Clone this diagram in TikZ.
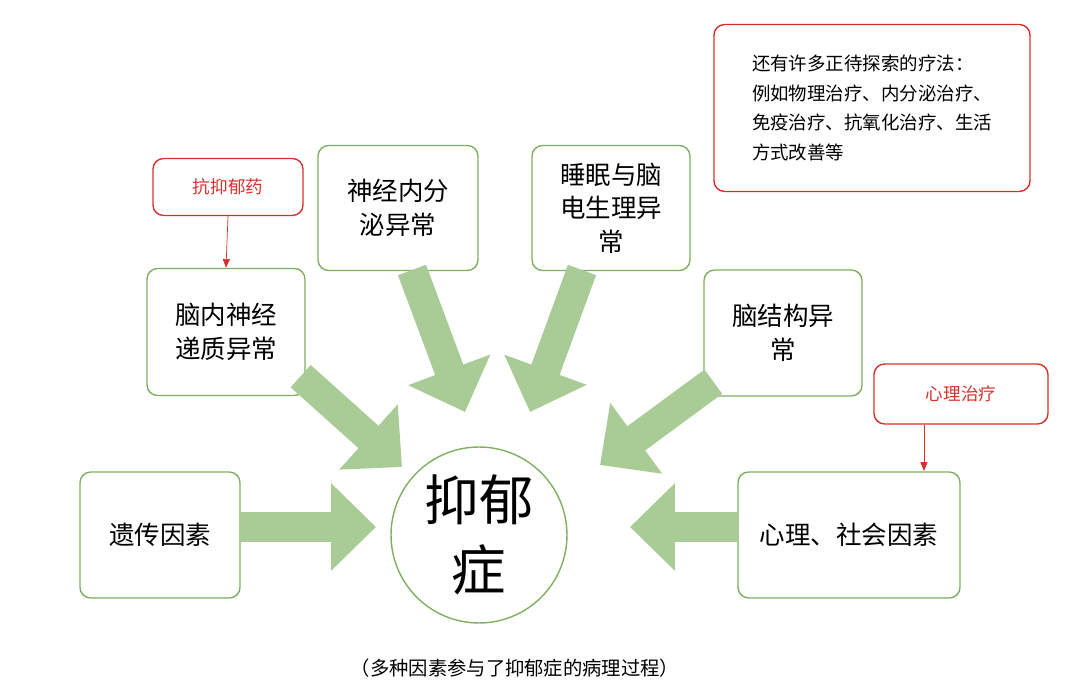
\documentclass[tikz,border=0pt]{standalone}
\usepackage{fontspec}
\setmainfont{Noto Sans CJK SC}
\usetikzlibrary{arrows.meta}
\definecolor{boxgreen}{HTML}{7FAF62}
\definecolor{arrgreen}{HTML}{A9CB96}
\definecolor{noteRed}{HTML}{D8312C}
\begin{document}
\begin{tikzpicture}[x=0.02cm,y=-0.02cm,
			factor/.style={draw=boxgreen,thick,rounded corners=6pt,fill=white,align=center,
				font=\fontsize{14.5}{19}\selectfont,inner sep=0pt},
			note/.style={draw=noteRed,thick,rounded corners=6pt,text=noteRed,
				font=\fontsize{10}{13}\selectfont,inner sep=0pt},
			flow/.style={arrgreen,line width=0.6cm,-{Triangle[width=1.7cm,length=0.9cm]}},
			hint/.style={noteRed,-{Triangle[width=4pt,length=5pt]}}]

		\useasboundingbox (0,0) rectangle (1080,692);

		\node [factor, minimum width=3.2cm, minimum height=2.52cm] (gene) at (160,535) {遗传因素};
		\node [factor, minimum width=3.16cm, minimum height=2.54cm] (trans) at (226,332) {脑内神经\\递质异常};
		\node [factor, minimum width=3.2cm, minimum height=2.5cm] (endo) at (398,208) {神经内分\\泌异常};
		\node [factor, minimum width=3.16cm, minimum height=2.5cm] (sleep) at (611,208) {睡眠与脑\\电生理异\\常};
		\node [factor, minimum width=3.16cm, minimum height=2.52cm] (struct) at (783,333) {脑结构异\\常};
		\node [factor, minimum width=4.44cm, minimum height=2.52cm] (psy) at (849,535) {心理、社会因素};
		\node [draw=boxgreen, thick, circle, minimum size=3.52cm, align=center,
			font=\fontsize{31}{40}\selectfont, inner sep=0pt] (dep) at (479,535) {抑郁\\症};

		\node [note, minimum width=3cm, minimum height=1.14cm] (drug) at (228,187) {抗抑郁药};
		\node [note, minimum width=3.48cm, minimum height=1.2cm] (therapy) at (961,394) {心理治疗};
		\node [note, minimum width=6.32cm, minimum height=3.34cm, align=left, text=black,
			font=\fontsize{10.5}{17}\selectfont] (other) at (872,108)
			{还有许多正待探索的疗法：\\例如物理治疗、内分泌治疗、\\免疫治疗、抗氧化治疗、生活\\方式改善等};

		\node [font=\fontsize{11}{14}\selectfont] (caption) at (515,668) {（多种因素参与了抑郁症的病理过程）};

		\draw [flow] ([yshift=0.16cm]gene.east) -- (376,527);
		\draw [flow] (trans.south east) ++(-5,-20) -- (402,467);
		\draw [flow] (412,270) -- (465,412);
		\draw [flow] (582,270) -- (530,412);
		\draw [flow] (struct.south west) ++(10,-15) -- (600,465);
		\draw [flow] ([yshift=0.16cm]psy.west) -- (630,527);

		\draw [hint] (drug.south) -- (trans.north);
		\draw [hint] (therapy.south -| psy.north) ++(75,0) -- (924,471);
		\end{tikzpicture}
\end{document}
